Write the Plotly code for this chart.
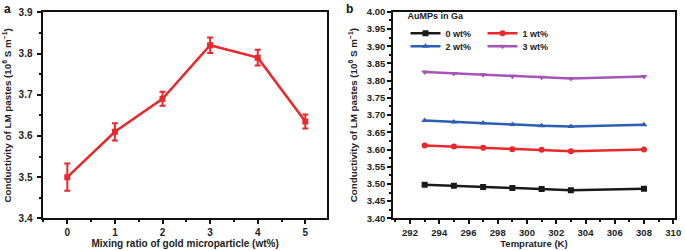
import plotly.graph_objects as go

# Panel a data
ratio = [0, 1, 2, 3, 4, 5]
cond_a = [3.50, 3.61, 3.69, 3.82, 3.79, 3.635]
err_a = [0.033, 0.021, 0.017, 0.019, 0.019, 0.017]

# Panel b data
temps = [293, 295, 297, 299, 301, 303, 308]
s0 = [3.498, 3.495, 3.491, 3.488, 3.485, 3.482, 3.486]
s1 = [3.612, 3.609, 3.605, 3.601, 3.599, 3.595, 3.600]
s2 = [3.684, 3.680, 3.677, 3.673, 3.669, 3.667, 3.672]
s3 = [3.825, 3.821, 3.817, 3.813, 3.810, 3.806, 3.812]
names_b = ["0 wt%", "1 wt%", "2 wt%", "3 wt%"]
colors_b = ["#1a1a1a", "#e8282b", "#2c5fb3", "#a455b5"]
symbols_b = ["square", "circle", "triangle-up", "triangle-down"]

FONT = "Liberation Sans"
TXT = "#222222"

fig = go.Figure()

fig.add_trace(go.Scatter(
    x=ratio, y=cond_a, mode="lines+markers",
    line=dict(color="#e8282b", width=2.5),
    marker=dict(symbol="square", size=6, color="#e8282b"),
    error_y=dict(type="data", array=err_a, color="#e8282b", thickness=2, width=3),
    showlegend=False, xaxis="x", yaxis="y"))

series_b = [s0, s1, s2, s3]
legends = ["legend", "legend", "legend2", "legend2"]
for vals, nm, c, sym, lg in zip(series_b, names_b, colors_b, symbols_b, legends):
    fig.add_trace(go.Scatter(
        x=temps, y=vals, mode="lines+markers", name=nm,
        line=dict(color=c, width=2.5),
        marker=dict(symbol=sym, size=6, color=c),
        xaxis="x2", yaxis="y2", legend=lg))


def fnt(size):
    return dict(family=FONT, size=size, color=TXT, weight="bold")


axis_common = dict(
    showline=True, linecolor="#111111", linewidth=2, mirror=True,
    ticks="outside", ticklen=4, tickwidth=1.5, tickcolor="#111111",
    showgrid=False, zeroline=False, automargin=False,
)
ytitle = "Conductivity of LM pastes (10<sup>6</sup> S m<sup>\u22121</sup>)"
minor_style = dict(ticks="outside", ticklen=2, tickcolor="#111111", tickwidth=1.5)

fig.update_layout(
    width=685, height=251,
    margin=dict(l=0, r=0, t=0, b=0),
    paper_bgcolor="white", plot_bgcolor="white",
    xaxis=dict(domain=[0.0635, 0.477], range=[-0.5, 5.45], tickvals=ratio,
               tickfont=fnt(10),
               minor=dict(dtick=0.5, tick0=0, **minor_style),
               title=dict(text="Mixing ratio of gold microparticle (wt%)", font=fnt(10), standoff=0),
               anchor="y", **axis_common),
    yaxis=dict(domain=[0.130, 0.951], range=[3.4, 3.9], dtick=0.1, tickformat=".1f",
               ticklabelstandoff=3, tickfont=fnt(10),
               minor=dict(dtick=0.05, **minor_style),
               title=dict(text=ytitle, font=fnt(9.8), standoff=5),
               anchor="x", **axis_common),
    xaxis2=dict(domain=[0.574, 0.985], range=[290.85, 310.1], dtick=2, tick0=292,
                tickfont=fnt(9.5),
                minor=dict(dtick=1, tick0=292, **minor_style),
                title=dict(text="Temprature (K)", font=fnt(9.5), standoff=0),
                anchor="y2", **axis_common),
    yaxis2=dict(domain=[0.130, 0.953], range=[3.4, 4.0], dtick=0.05, tickformat=".2f",
                tickfont=fnt(9.5),
                minor=dict(dtick=0.025, **minor_style),
                title=dict(text=ytitle, font=fnt(9.8), standoff=7),
                anchor="x2", **axis_common),
    legend=dict(orientation="h", x=0.592, y=0.972, xanchor="left", yanchor="top",
                bgcolor="rgba(0,0,0,0)", entrywidth=32, tracegroupgap=0,
                title=dict(text="AuMPs in Ga", side="top", font=fnt(9)),
                font=fnt(9), itemwidth=30),
    legend2=dict(orientation="h", x=0.592, y=0.874, xanchor="left", yanchor="top",
                 bgcolor="rgba(0,0,0,0)", entrywidth=32,
                 font=fnt(9), itemwidth=30),
    annotations=[
        dict(text="a", x=0.003, y=1.0, xref="paper", yref="paper", xanchor="left", yanchor="top",
             showarrow=False, font=dict(family=FONT, size=12, color="#111", weight="bold")),
        dict(text="b", x=0.502, y=1.0, xref="paper", yref="paper", xanchor="left", yanchor="top",
             showarrow=False, font=dict(family=FONT, size=12, color="#111", weight="bold")),
    ],
)

fig.write_html("out.html", config={"displayModeBar": False},
               post_script="document.body.style.margin='0';")
